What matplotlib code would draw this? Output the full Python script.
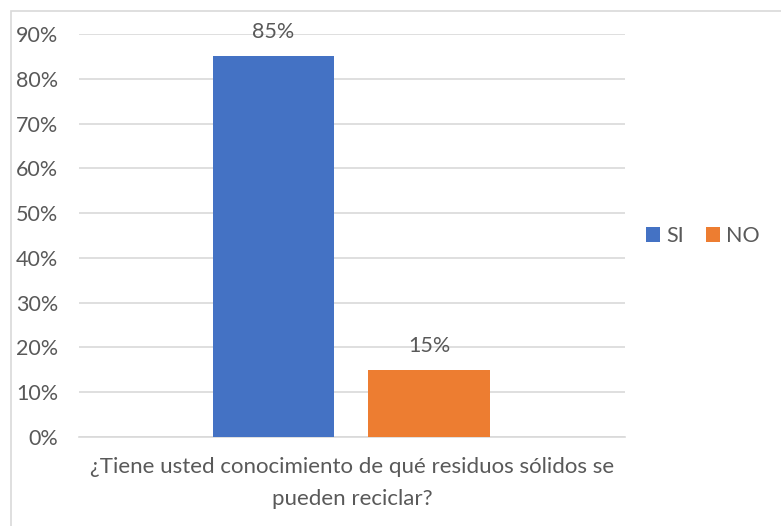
import matplotlib.pyplot as plt
from matplotlib.patches import Rectangle
from matplotlib.ticker import PercentFormatter

# Datos de la encuesta
series = ['SI', 'NO']
valores = [0.85, 0.15]
colores = ['#4472C4', '#ED7D31']
pregunta = '¿Tiene usted conocimiento de qué residuos sólidos se\npueden reciclar?'

gris = '#595959'
fs = 15.5
plt.rcParams['font.family'] = ['Lato', 'DejaVu Sans']

fig = plt.figure(figsize=(7.81, 5.26), dpi=100)
ax = fig.add_axes([0.1012, 0.1692, 0.6991, 0.7662])

# marco del gráfico
fig.patches.append(Rectangle((11 / 781, -0.05), 1.0, 1.05 - 11 / 526,
                             transform=fig.transFigure, fill=False,
                             edgecolor='#d9d9d9', linewidth=1.2))

posiciones = [-0.144, 0.141]
for pos, val, col, nombre in zip(posiciones, valores, colores, series):
    ax.bar(pos, val, width=0.222, color=col, label=nombre, zorder=3)
    ax.annotate(f'{val:.0%}', (pos, val), xytext=(0, 10), textcoords='offset points',
                ha='center', va='bottom', fontsize=fs, color=gris)

ax.set_xlim(-0.5, 0.5)
ax.set_ylim(0, 0.9)
ax.set_yticks([i / 10 for i in range(10)])
ax.yaxis.set_major_formatter(PercentFormatter(1.0, decimals=0))
ax.set_xticks([])
ax.grid(axis='y', color='#d9d9d9', linewidth=1.2, zorder=0)
for s in ['top', 'right', 'left']:
    ax.spines[s].set_visible(False)
ax.spines['bottom'].set_color('#d9d9d9')
ax.spines['bottom'].set_linewidth(1.2)
ax.tick_params(axis='y', length=0, pad=15, labelsize=fs, labelcolor=gris)

ax.set_xlabel(pregunta, fontsize=fs + 0.5, color=gris, labelpad=14.5, linespacing=1.75)

fig.legend(loc='center left', bbox_to_anchor=(0.827, 0.551), ncol=2, frameon=False,
           fontsize=fs, labelcolor=gris, handlelength=0.65, handleheight=0.65,
           handletextpad=0.3, columnspacing=1.0, borderpad=0, borderaxespad=0)

fig.savefig('out.png', dpi=100)
